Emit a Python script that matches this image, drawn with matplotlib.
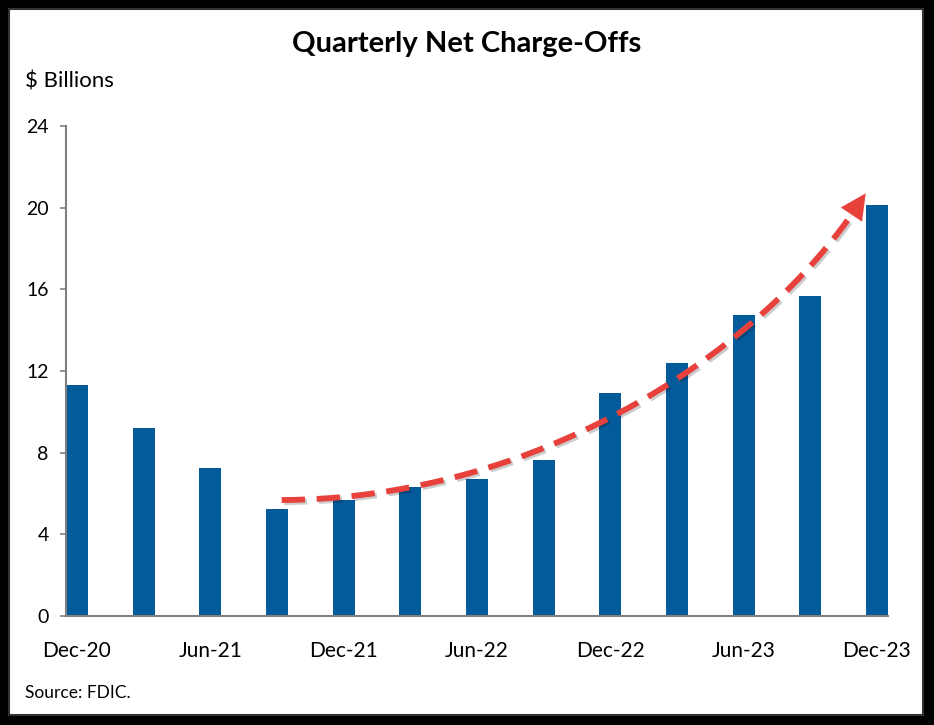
import matplotlib.pyplot as plt
import matplotlib.patheffects as pe
from matplotlib.patches import Rectangle
import numpy as np

# datos: cargos netos trimestrales (miles de millones)
quarters = ["Dec-20", "Mar-21", "Jun-21", "Sep-21", "Dec-21", "Mar-22", "Jun-22",
            "Sep-22", "Dec-22", "Mar-23", "Jun-23", "Sep-23", "Dec-23"]
charge_offs = [11.3, 9.2, 7.25, 5.25, 5.7, 6.3, 6.7, 7.65, 10.9, 12.4, 14.75, 15.65, 20.15]

# flecha de tendencia (puntos de control bezier, coordenadas de datos)
arrow_ctrl = [(3.07, 5.68), (7.0, 5.75), (10.4, 13.2), (11.83, 20.7)]

plt.rcParams['font.family'] = ['Lato', 'DejaVu Sans']

fig = plt.figure(figsize=(9.34, 7.25), dpi=100, facecolor='black')
# marco blanco interior
fig.patches.append(Rectangle((9 / 934, 1 - 715 / 725), 914 / 934, 706 / 725,
                             transform=fig.transFigure, facecolor='white',
                             edgecolor='#333333', linewidth=1.5, zorder=-10))

ax = fig.add_axes([66 / 934, 1 - 616 / 725, 822 / 934, 490 / 725])
ax.set_facecolor('none')

x = np.arange(len(quarters))
ax.bar(x, charge_offs, width=0.33, color='#035B9B', zorder=2)

ax.set_xlim(-0.165, len(quarters) - 1 + 0.165)
ax.set_ylim(0, 24)
ax.set_yticks(range(0, 25, 4))
ax.set_xticks(x[::2])
ax.set_xticklabels(quarters[::2])
ax.tick_params(axis='x', length=0, pad=18, labelsize=15)
ax.tick_params(axis='y', length=4.5, width=1.2, color='#808080', pad=8, labelsize=14)
for s in ['top', 'right']:
    ax.spines[s].set_visible(False)
for s in ['left', 'bottom']:
    ax.spines[s].set_color('#808080')
    ax.spines[s].set_linewidth(1.5)

# curva de tendencia
P = np.array(arrow_ctrl)
t = np.linspace(0, 1, 200)[:, None]
curve = ((1 - t) ** 3) * P[0] + 3 * ((1 - t) ** 2) * t * P[1] + 3 * (1 - t) * t ** 2 * P[2] + t ** 3 * P[3]
cut = 194
shadow = [pe.SimpleLineShadow(offset=(1.5, -1.5), alpha=0.2), pe.Normal()]
ax.plot(curve[:cut, 0], curve[:cut, 1], color='#E8413C', lw=4.2, ls=(0, (4, 2.0)),
        zorder=4, path_effects=shadow, solid_capstyle='butt')
ax.annotate('', xy=tuple(P[3]), xytext=tuple(curve[cut - 6]),
            arrowprops=dict(arrowstyle='-|>,head_length=0.7,head_width=0.35',
                            color='#E8413C', lw=0.1,
                            mutation_scale=26, shrinkA=0, shrinkB=0), zorder=5)

fig.text(0.5, 1 - 44 / 725, "Quarterly Net Charge-Offs", ha='center', va='center',
         fontsize=21, fontweight='bold')
fig.text(25 / 934, 1 - 82 / 725, "\\$ Billions", ha='left', va='center', fontsize=16)
fig.text(25 / 934, 1 - 693 / 725, "Source: FDIC.", ha='left', va='center', fontsize=12.5)

fig.savefig('out.png', dpi=100, facecolor=fig.get_facecolor())
